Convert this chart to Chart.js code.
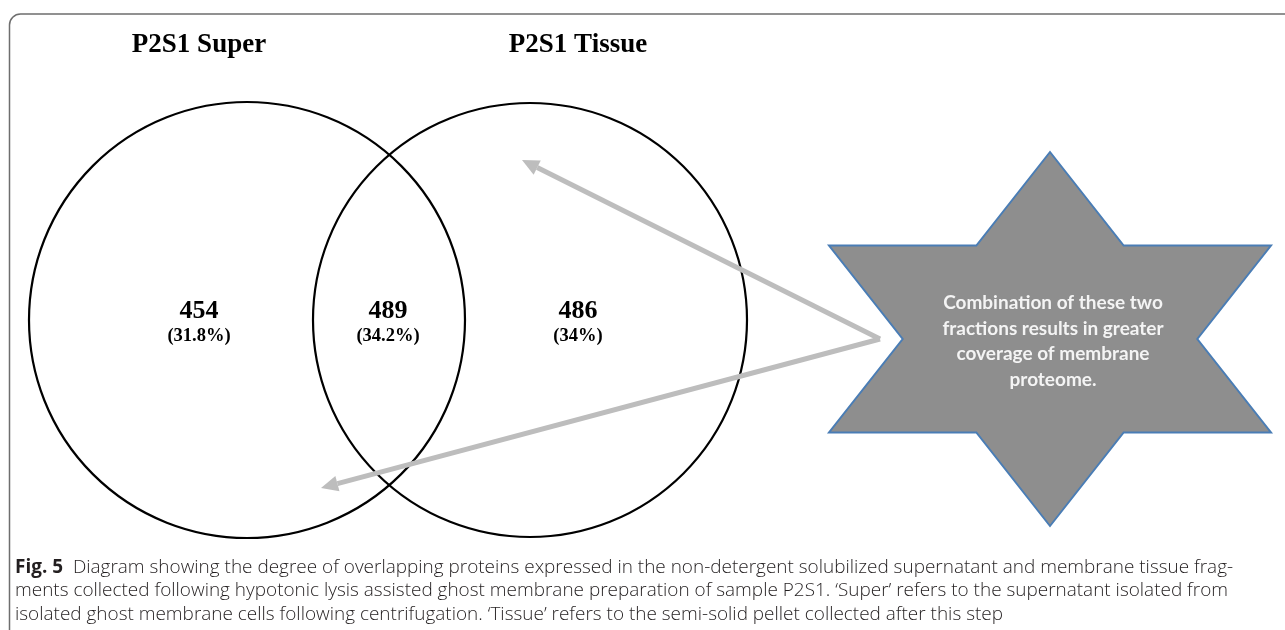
<!DOCTYPE html>
<html>
<head>
<meta charset="utf-8">
<title>P2S1 Venn</title>
<script src="https://cdn.jsdelivr.net/npm/chart.js@4.4.1/dist/chart.umd.min.js"></script>
<style>
  html, body { margin: 0; padding: 0; background: #fff; }
  #wrap { width: 1285px; height: 630px; }
</style>
</head>
<body>
<div id="wrap"><canvas id="vennChart" width="1285" height="630"></canvas></div>
<script>
// data
const setNames = ["P2S1 Super", "P2S1 Tissue"];
const regionNames = ["Super only", "Both", "Tissue only"];
const regionCounts = [454, 489, 486];
const regionPercents = [31.8, 34.2, 34];
const calloutLines = [
  "Combination of these two",
  "fractions results in greater",
  "coverage of membrane",
  "proteome."
];
const captionLabel = "Fig. 5";
const captionLines = [
  "Diagram showing the degree of overlapping proteins expressed in the non-detergent solubilized supernatant and membrane tissue frag-",
  "ments collected following hypotonic lysis assisted ghost membrane preparation of sample P2S1. \u2018Super\u2019 refers to the supernatant isolated from",
  "isolated ghost membrane cells following centrifugation. \u2018Tissue\u2019 refers to the semi-solid pellet collected after this step"
];

// layout (page units, same as the axis units below)
const circles = [
  { cx: 247, cy: 320, r: 218 },
  { cx: 530, cy: 320, r: 217 }
];
const titleAnchors = [{ x: 199, y: 52 }, { x: 578, y: 52 }];
const regionAnchors = [{ x: 199, y: 318 }, { x: 388, y: 318 }, { x: 578, y: 318 }];
const star = { cx: 1050, cy: 339, ry: 187, rx: 221 * 2 / Math.sqrt(3) * 0.5 / 0.5 };
const arrowFrom = { x: 880, y: 339 };
const arrowTips = [{ x: 522, y: 160 }, { x: 321, y: 488 }];

const px = (chart, p) => ({
  x: chart.scales.x.getPixelForValue(p.x),
  y: chart.scales.y.getPixelForValue(p.y)
});

const vennPlugin = {
  id: "venn",
  beforeDatasetsDraw(chart) {
    const ctx = chart.ctx;
    const sx = chart.scales.x;
    ctx.save();

    // figure frame (only top and left edges visible)
    ctx.strokeStyle = "#6e6e6e";
    ctx.lineWidth = 1.5;
    ctx.beginPath();
    const a = px(chart, { x: 1300, y: 14 });
    const c = px(chart, { x: 9.5, y: 14 });
    const d = px(chart, { x: 9.5, y: 650 });
    ctx.moveTo(a.x, a.y);
    ctx.arcTo(c.x, c.y, d.x, d.y, 11);
    ctx.lineTo(d.x, d.y);
    ctx.stroke();

    // set circles
    ctx.strokeStyle = "#000";
    ctx.lineWidth = 2.2;
    circles.forEach(cc => {
      const p = px(chart, { x: cc.cx, y: cc.cy });
      const r = sx.getPixelForValue(cc.cx + cc.r) - p.x;
      ctx.beginPath();
      ctx.arc(p.x, p.y, r, 0, Math.PI * 2);
      ctx.stroke();
    });

    // set titles
    ctx.fillStyle = "#000";
    ctx.font = "bold 27px 'Liberation Serif', 'Times New Roman', serif";
    ctx.textAlign = "center";
    ctx.textBaseline = "alphabetic";
    setNames.forEach((name, i) => {
      const p = px(chart, titleAnchors[i]);
      ctx.fillText(name, p.x, p.y);
    });

    // six-pointed star callout
    const pts = [];
    for (let k = 0; k < 12; k++) {
      const ang = -Math.PI / 2 + k * Math.PI / 6;
      const f = k % 2 === 0 ? 1 : 1 / Math.sqrt(3);
      pts.push(px(chart, {
        x: star.cx + Math.cos(ang) * star.rx * f,
        y: star.cy + Math.sin(ang) * star.ry * f
      }));
    }
    ctx.beginPath();
    pts.forEach((p, k) => (k ? ctx.lineTo(p.x, p.y) : ctx.moveTo(p.x, p.y)));
    ctx.closePath();
    ctx.fillStyle = "#8e8e8e";
    ctx.fill();
    ctx.strokeStyle = "#4a7db5";
    ctx.lineWidth = 2;
    ctx.stroke();

    ctx.fillStyle = "#f4f4f4";
    ctx.font = "bold 19px Lato, 'Open Sans', sans-serif";
    calloutLines.forEach((line, i) => {
      const p = px(chart, { x: 1053, y: 309 + i * 25.7 });
      ctx.fillText(line, p.x, p.y, 232);
    });

    // arrows
    ctx.strokeStyle = "#bdbdbd";
    ctx.fillStyle = "#bdbdbd";
    ctx.lineWidth = 5;
    ctx.lineJoin = "miter";
    const f0 = px(chart, arrowFrom);
    arrowTips.forEach(t => {
      const tp = px(chart, t);
      const dx = f0.x - tp.x, dy = f0.y - tp.y;
      const len = Math.hypot(dx, dy);
      const ux = dx / len, uy = dy / len;
      const hl = 17, hw = 8;
      const bx = tp.x + ux * hl, by = tp.y + uy * hl;
      ctx.beginPath();
      ctx.moveTo(f0.x, f0.y);
      ctx.lineTo(bx, by);
      ctx.stroke();
      ctx.beginPath();
      ctx.moveTo(tp.x, tp.y);
      ctx.lineTo(bx - uy * hw, by + ux * hw);
      ctx.lineTo(bx + uy * hw, by - ux * hw);
      ctx.closePath();
      ctx.fill();
    });

    // caption
    ctx.textAlign = "left";
    const capX = sx.getPixelForValue(15);
    const boldFont = "bold 19px 'Open Sans', sans-serif";
    const regFont = "300 19px 'Open Sans', sans-serif";
    ctx.font = regFont;
    const natural2 = ctx.measureText(captionLines[1]).width;
    const squeeze = (1228 - 15) / natural2;
    captionLines.forEach((line, i) => {
      const y = chart.scales.y.getPixelForValue(573 + i * 23.3);
      ctx.save();
      ctx.translate(capX, y);
      ctx.scale(squeeze, 1);
      let x = 0;
      if (i === 0) {
        ctx.font = boldFont;
        ctx.fillStyle = "#231f20";
        ctx.fillText(captionLabel, 0, 0);
        x = ctx.measureText(captionLabel + "  ").width;
      }
      ctx.font = regFont;
      ctx.fillStyle = "#231f20";
      ctx.fillText(line, x, 0);
      ctx.restore();
    });
    ctx.restore();
  },
  afterDatasetsDraw(chart) {
    const ctx = chart.ctx;
    const meta = chart.getDatasetMeta(0);
    ctx.save();
    ctx.fillStyle = "#000";
    ctx.textAlign = "center";
    meta.data.forEach((el, i) => {
      ctx.font = "bold 26px 'Liberation Serif', 'Times New Roman', serif";
      ctx.fillText(String(regionCounts[i]), el.x, el.y);
      ctx.font = "bold 18.5px 'Liberation Serif', 'Times New Roman', serif";
      ctx.fillText("(" + regionPercents[i] + "%)", el.x, el.y + 23);
    });
    ctx.restore();
  }
};

new Chart(document.getElementById("vennChart"), {
  type: "scatter",
  data: {
    datasets: [{
      label: "Proteins per region",
      data: regionCounts.map((v, i) => ({ x: regionAnchors[i].x, y: regionAnchors[i].y, n: v, name: regionNames[i] })),
      pointRadius: 0,
      pointHoverRadius: 0
    }]
  },
  options: {
    responsive: false,
    devicePixelRatio: 1,
    animation: false,
    layout: { padding: 0 },
    scales: {
      x: { type: "linear", min: 0, max: 1285, display: false },
      y: { type: "linear", min: 0, max: 630, reverse: true, display: false }
    },
    plugins: { legend: { display: false }, tooltip: { enabled: false } }
  },
  plugins: [vennPlugin]
});
</script>
</body>
</html>
